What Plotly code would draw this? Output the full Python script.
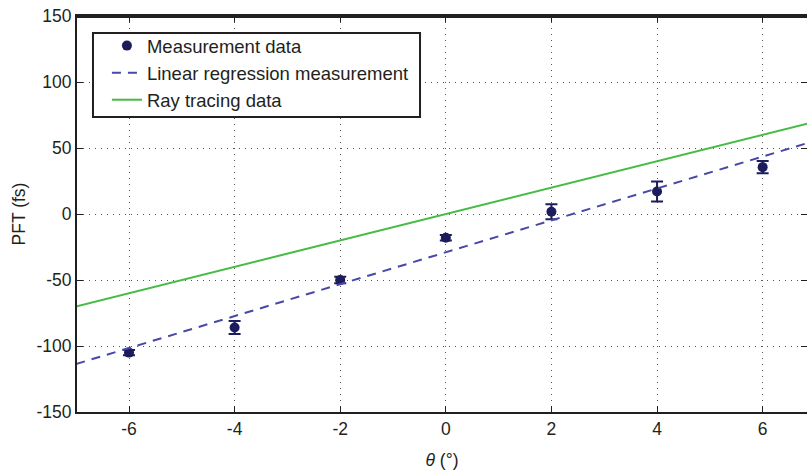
import plotly.graph_objects as go

# Measurement data
theta_meas = [-6, -4, -2, 0, 2, 4, 6]
pft_meas = [-105, -86, -50, -18, 1.7, 17, 35.5]
pft_err = [2, 5, 2.5, 2, 5.7, 7.6, 4.7]

theta_reg = [-7, 7]
pft_reg = [-113.6, 55.6]

# Ray tracing data
theta_ray = [-7, 7]
pft_ray = [-70, 70]

x_ticks = [-6, -4, -2, 0, 2, 4, 6]
x_labels = ["-6", "-4", "-2", "0", "2", "4", "6"]
y_ticks = [-150, -100, -50, 0, 50, 100, 150]
y_labels = ["-150", "-100", "-50", "0", "50", "100", "150"]

navy = "#1c1c5c"
fig = go.Figure()
fig.add_trace(go.Scatter(
    x=theta_meas, y=pft_meas, mode="markers", name="Measurement data",
    marker=dict(color=navy, size=10),
    error_y=dict(type="data", array=pft_err, visible=True, color=navy, thickness=2, width=6),
))
fig.add_trace(go.Scatter(
    x=theta_reg, y=pft_reg, mode="lines", name="Linear regression measurement",
    line=dict(color="#4848a8", width=2, dash="9px,7px"),
))
fig.add_trace(go.Scatter(
    x=theta_ray, y=pft_ray, mode="lines", name="Ray tracing data",
    line=dict(color="#44bb44", width=2),
))

axis_common = dict(
    showline=True, linecolor="#231f20", linewidth=2, mirror="ticks",
    ticks="inside", ticklen=6, tickwidth=1, tickcolor="#231f20",
    showgrid=True, gridcolor="#555555", griddash="1px,5px", gridwidth=1,
    zeroline=False, tickfont=dict(size=17.5, color="#231f20"),
    automargin=False, ticklabeloverflow="allow",
)

fig.update_layout(
    width=807, height=470,
    margin=dict(l=77, r=0, t=16, b=58),
    paper_bgcolor="white", plot_bgcolor="white",
    font=dict(family="Liberation Sans, Arial, sans-serif", size=17.5, color="#231f20"),
    xaxis=dict(range=[-6.985, 6.84], tickvals=x_ticks, ticktext=x_labels,
               title=dict(text="<i>θ</i> (°)", font=dict(size=17.5), standoff=17), **axis_common),
    yaxis=dict(range=[-150, 150], tickvals=y_ticks, ticktext=y_labels,
               title=dict(text="PFT (fs)", font=dict(size=17.5), standoff=6), **axis_common),
    legend=dict(x=0.041, y=0.972, xanchor="left", yanchor="top",
                borderwidth=0, bgcolor="rgba(0,0,0,0)",
                font=dict(size=18.5), tracegroupgap=0),
    showlegend=True,
    shapes=[
        dict(type="rect", xref="paper", yref="paper",
             x0=0.0219, x1=0.4699, y0=0.745, y1=0.957,
             line=dict(color="#231f20", width=2), fillcolor="white", layer="above"),
        dict(type="line", xref="paper", yref="y", x0=0, x1=1, y0=149.5, y1=149.5,
             line=dict(color="#231f20", width=2.5), layer="above"),
    ],
)

fig.write_html(
    "out.html",
    config={"displayModeBar": False},
    post_script="document.body.style.margin='0';document.body.style.overflow='hidden';",
)
